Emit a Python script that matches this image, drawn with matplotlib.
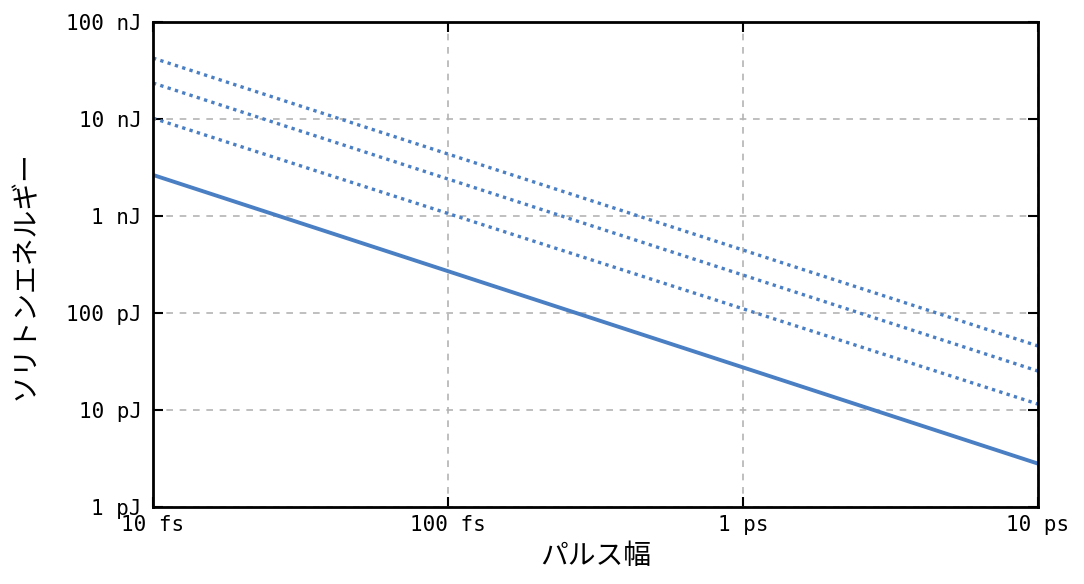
import numpy as np
import matplotlib
matplotlib.use("Agg")
import matplotlib.pyplot as plt
from matplotlib.ticker import FixedLocator, NullLocator

# pulse width endpoints (s) and soliton energy (J)
pulse_width = [10e-15, 10e-12]
energy_solid = [2.65e-9, 2.8e-12]
energy_dot1 = [10.2e-9, 11.5e-12]
energy_dot2 = [23.5e-9, 25.2e-12]
energy_dot3 = [42.5e-9, 45.7e-12]

x_ticks = [10e-15, 100e-15, 1e-12, 10e-12]
x_labels = ["10 fs", "100 fs", "1 ps", "10 ps"]
y_ticks = [1e-12, 10e-12, 100e-12, 1e-9, 10e-9, 100e-9]
y_labels = ["1 pJ", "10 pJ", "100 pJ", "1 nJ", "10 nJ", "100 nJ"]

color = "#4a7fc4"

fig = plt.figure(figsize=(10.84, 5.84), dpi=100)
ax = fig.add_axes([153/1084, 1-507/584, (1038-153)/1084, (507-22)/584])

ax.plot(pulse_width, energy_solid, color=color, lw=2.8, solid_capstyle="butt")
for e in [energy_dot1, energy_dot2, energy_dot3]:
    ax.plot(pulse_width, e, color=color, lw=2.4, linestyle=(0, (1.0, 1.3)),
            dash_capstyle="butt")

ax.set_xscale("log")
ax.set_yscale("log")
ax.set_xlim(10e-15, 10e-12)
ax.set_ylim(1e-12, 100e-9)

ax.xaxis.set_major_locator(FixedLocator(x_ticks))
ax.yaxis.set_major_locator(FixedLocator(y_ticks))
ax.xaxis.set_minor_locator(NullLocator())
ax.yaxis.set_minor_locator(NullLocator())
ax.set_xticklabels(x_labels)
ax.set_yticklabels(y_labels)

ax.grid(True, color="#b4b4b4", linestyle=(0, (4, 4)), linewidth=1.2)
ax.tick_params(direction="in", length=7, width=1.5, top=True, right=True,
               labelsize=15, pad=8, colors="black")
ax.tick_params(axis="x", pad=6)
for lab in ax.get_xticklabels() + ax.get_yticklabels():
    lab.set_family("DejaVu Sans Mono")
for s in ax.spines.values():
    s.set_linewidth(2)

cjk = ["Noto Sans CJK JP", "DejaVu Sans"]
ax.set_xlabel("パルス幅", family=cjk, fontsize=20, labelpad=4)
ax.set_ylabel("ソリトンエネルギー", family=cjk, fontsize=20)
ax.yaxis.set_label_coords(-0.128, 0.478)

fig.savefig("out.png", dpi=100)
